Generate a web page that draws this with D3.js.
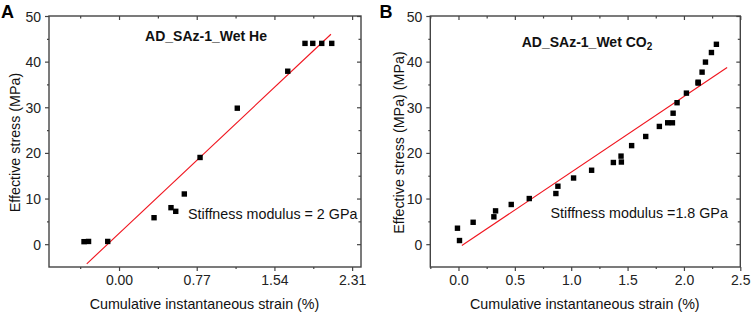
<!DOCTYPE html>
<html>
<head>
<meta charset="utf-8">
<script src="https://cdn.jsdelivr.net/npm/d3@7"></script>
<style>
  body { margin: 0; background: #fff; }
  svg { display: block; font-family: Arial, 'Liberation Sans', sans-serif; }
  .tick text { font-size: 14px; fill: #222; }
  .tick line { stroke: #444; stroke-width: 1.2; }
  .frame { fill: none; stroke: #444; stroke-width: 1.4; }
  .fit { fill: none; stroke: #f0141e; stroke-width: 1.1; }
  .pt { fill: #000; }
  .lbl { font-size: 14.3px; fill: #111; }
  .title { font-size: 14px; font-weight: bold; fill: #111; }
  .panel-tag { font-size: 18px; font-weight: bold; fill: #000; }
</style>
</head>
<body>
<svg id="chart" width="754" height="315"></svg>
<script>
// panel A: wet He
const heStrain = [-0.347, -0.302, -0.112, 0.347, 0.515, 0.562, 0.647, 0.803, 1.172, 1.672, 1.843, 1.920, 2.009, 2.108]
const heStress = [0.55, 0.6, 0.6, 5.8, 8.0, 7.2, 11.0, 19.0, 29.8, 37.9, 44.0, 44.0, 44.0, 44.0]
const heFitStrain = [-0.32, 2.10]
const heFitStress = [-4.3, 46.0]
const heXTicks = [0, 0.77, 1.54, 2.31]
const heXMinor = [-0.385, 0.385, 1.155, 1.925]

// panel B: wet CO2
const coStrain = [-0.009, 0.009, 0.130, 0.314, 0.329, 0.468, 0.628, 0.864, 0.882, 1.021, 1.181, 1.374, 1.445, 1.442,
  1.536, 1.661, 1.782, 1.856, 1.898, 1.904, 1.939, 2.022, 2.126, 2.126, 2.161, 2.191, 2.244, 2.288]
const coStress = [3.5, 0.8, 4.8, 6.0, 7.3, 8.7, 10.0, 11.1, 12.7, 14.5, 16.2, 17.9, 18.0, 19.3,
  21.6, 23.6, 25.8, 26.6, 26.6, 28.7, 31.0, 33.1, 35.5, 35.3, 37.7, 39.9, 42.0, 43.8]
const coFitStrain = [0.03, 2.383]
const coFitStress = [-0.3, 38.7]
const coXTicks = [0, 0.5, 1.0, 1.5, 2.0, 2.5]
const coXMinor = [-0.25, 0.25, 0.75, 1.25, 1.75, 2.25]

const yTicks = [0, 10, 20, 30, 40, 50]
const yMinor = [5, 15, 25, 35, 45]

const svg = d3.select('#chart')

function drawPanel(opt) {
  const { left, right, top, bottom } = opt
  const x = d3.scaleLinear().domain(opt.xDomain).range([left, right])
  const y = d3.scaleLinear().domain([-5, 50]).range([bottom, top])
  const g = svg.append('g')

  const axis = (gen, tr) => {
    const a = g.append('g').attr('transform', tr).call(gen)
    a.select('.domain').remove()
    return a
  }

  // major + minor ticks, outward on left/bottom, inward on top/right
  const bx = axis(d3.axisBottom(x).tickValues(opt.xTicks).tickSize(4).tickPadding(3).tickFormat(d3.format(opt.xFmt)), `translate(0,${bottom})`)
  bx.selectAll('text').attr('y', 8)
  axis(d3.axisBottom(x).tickValues(opt.xMinor).tickSize(2).tickFormat(''), `translate(0,${bottom})`)
  axis(d3.axisTop(x).tickValues(opt.xTicks).tickSize(-4).tickFormat(''), `translate(0,${top})`)
  axis(d3.axisTop(x).tickValues(opt.xMinor).tickSize(-2.5).tickFormat(''), `translate(0,${top})`)

  const ly = axis(d3.axisLeft(y).tickValues(yTicks).tickSize(4).tickPadding(4).tickFormat(d3.format('d')), `translate(${left},0)`)
  ly.selectAll('text').attr('dy', '0.36em')
  axis(d3.axisLeft(y).tickValues(yMinor).tickSize(2).tickFormat(''), `translate(${left},0)`)
  axis(d3.axisRight(y).tickValues(yTicks).tickSize(-4).tickFormat(''), `translate(${right},0)`)
  axis(d3.axisRight(y).tickValues(yMinor).tickSize(-2.5).tickFormat(''), `translate(${right},0)`)

  g.append('rect').attr('class', 'frame')
    .attr('x', left).attr('y', top).attr('width', right - left).attr('height', bottom - top)

  // linear fit
  const fit = opt.fitX.map((v, i) => [v, opt.fitY[i]])
  g.append('path').attr('class', 'fit')
    .attr('d', d3.line().x(d => x(d[0])).y(d => y(d[1]))(fit))

  const pts = opt.xs.map((v, i) => ({ x: v, y: opt.ys[i] }))
  const s = 5.4
  g.selectAll('rect.pt').data(pts).join('rect').attr('class', 'pt')
    .attr('x', d => x(d.x) - s / 2).attr('y', d => y(d.y) - s / 2)
    .attr('width', s).attr('height', s)

  // labels
  g.append('text').attr('class', 'lbl').attr('text-anchor', 'middle')
    .attr('x', (left + right) / 2 - 0.5).attr('y', 309)
    .text('Cumulative instantaneous strain (%)')
  g.append('text').attr('class', 'lbl').attr('text-anchor', 'middle')
    .attr('transform', `translate(${opt.yLabelX},142.5) rotate(-90)`)
    .text(opt.yLabel)

  const t = g.append('text').attr('class', 'title').attr('text-anchor', 'middle')
    .attr('x', opt.titleX).attr('y', opt.titleY)
  t.append('tspan').text(opt.title)
  if (opt.titleSub) t.append('tspan').attr('font-size', '10px').attr('dy', 3).text(opt.titleSub)

  g.append('text').attr('class', 'lbl').attr('x', opt.noteX).attr('y', opt.noteY).text(opt.note)
  g.append('text').attr('class', 'panel-tag').attr('x', opt.tagX).attr('y', 17.5).text(opt.tag)
}

drawPanel({
  left: 49, right: 361, top: 16, bottom: 267,
  xDomain: [-0.694, 2.398], xTicks: heXTicks, xMinor: heXMinor, xFmt: '.2f',
  xs: heStrain, ys: heStress, fitX: heFitStrain, fitY: heFitStress,
  yLabel: 'Effective stress (MPa)', yLabelX: 19.5,
  title: 'AD_SAz-1_Wet He', titleX: 206, titleY: 40.5,
  note: 'Stiffness modulus = 2 GPa', noteX: 188, noteY: 219,
  tag: 'A', tagX: 1
})

drawPanel({
  left: 430.3, right: 740.3, top: 16, bottom: 267,
  xDomain: [-0.25, 2.5], xTicks: coXTicks, xMinor: coXMinor, xFmt: '.1f',
  xs: coStrain, ys: coStress, fitX: coFitStrain, fitY: coFitStress,
  yLabel: 'Effective stress (MPa) (MPa)', yLabelX: 403.5,
  title: 'AD_SAz-1_Wet CO', titleSub: '2', titleX: 587, titleY: 47,
  note: 'Stiffness modulus =1.8 GPa', noteX: 550.5, noteY: 218,
  tag: 'B', tagX: 379.5
})
</script>
</body>
</html>
